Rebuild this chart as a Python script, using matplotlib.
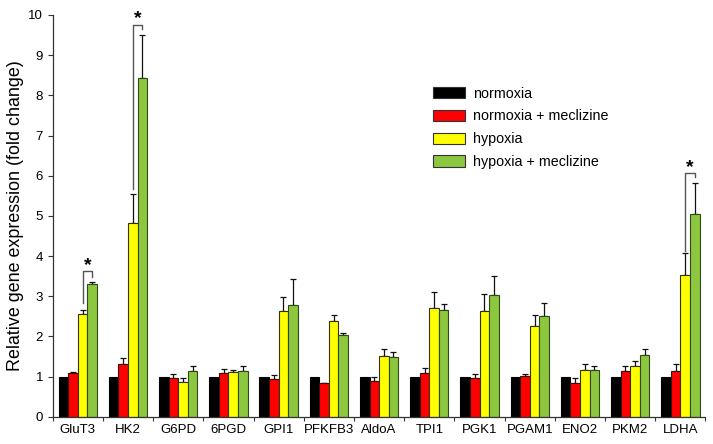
import numpy as np
import matplotlib
matplotlib.use("Agg")
import matplotlib.pyplot as plt
from matplotlib.patches import Patch

plt.rcParams['font.family'] = ['Liberation Sans', 'DejaVu Sans']

genes = ['GluT3', 'HK2', 'G6PD', '6PGD', 'GPI1', 'PFKFB3', 'AldoA',
         'TPI1', 'PGK1', 'PGAM1', 'ENO2', 'PKM2', 'LDHA']
series_names = ['normoxia', 'normoxia + meclizine', 'hypoxia', 'hypoxia + meclizine']

normoxia = [1.0, 1.0, 1.0, 1.0, 1.0, 1.0, 1.0, 1.0, 1.0, 1.0, 1.0, 1.0, 1.0]
normoxia_mec = [1.08, 1.32, 0.96, 1.08, 0.94, 0.83, 0.88, 1.08, 0.97, 1.02, 0.85, 1.14, 1.14]
hypoxia = [2.55, 4.83, 0.86, 1.11, 2.62, 2.39, 1.52, 2.71, 2.62, 2.27, 1.17, 1.27, 3.53]
hypoxia_mec = [3.31, 8.43, 1.14, 1.15, 2.79, 2.04, 1.49, 2.66, 3.04, 2.51, 1.17, 1.54, 5.05]

normoxia_err = [0.0] * 13
normoxia_mec_err = [0.03, 0.15, 0.10, 0.11, 0.10, 0.0, 0.12, 0.12, 0.09, 0.05, 0.12, 0.13, 0.16]
hypoxia_err = [0.11, 0.72, 0.11, 0.06, 0.37, 0.13, 0.17, 0.40, 0.44, 0.27, 0.15, 0.12, 0.55]
hypoxia_mec_err = [0.05, 1.07, 0.13, 0.12, 0.64, 0.05, 0.13, 0.15, 0.46, 0.33, 0.10, 0.15, 0.77]

colors = ['#000000', '#ff0000', '#ffff00', '#8dc63f']
edges = ['#000000', '#3a1010', '#333300', '#2f4a1a']

# significance brackets: gene index, left leg bottom, right leg bottom, top
sig_gene = [0, 1, 12]
sig_left = [2.82, 5.68, 4.12]
sig_right = [3.47, 9.66, 5.97]
sig_top = [3.62, 9.76, 6.07]

values = [normoxia, normoxia_mec, hypoxia, hypoxia_mec]
errors = [normoxia_err, normoxia_mec_err, hypoxia_err, hypoxia_mec_err]

fig = plt.figure(figsize=(7.13, 4.44), dpi=100)
ax = fig.add_axes([52.7 / 713, 27.3 / 444, 652.8 / 713, 401.7 / 444])

x = np.arange(len(genes))
w = 0.191
offsets = np.array([-1.5, -0.5, 0.5, 1.5]) * w

for k in range(4):
    xs = x + offsets[k]
    ax.bar(xs, values[k], width=w, color=colors[k], edgecolor=edges[k],
           linewidth=0.8, zorder=2)
    if k > 0:
        err = np.array(errors[k])
        ax.errorbar(xs, values[k], yerr=[np.zeros_like(err), err], fmt='none',
                    ecolor='#111111', elinewidth=0.9, capsize=2.3, capthick=0.9,
                    zorder=1)

for g, lb, rb, top in zip(sig_gene, sig_left, sig_right, sig_top):
    xl = g + offsets[2]
    xr = g + offsets[3]
    ax.plot([xl, xl, xr, xr], [lb, top, top, rb], color='#555555', lw=1.0, zorder=3)
    ax.text((xl + xr) / 2, top - 0.07, '*', ha='center', va='bottom',
            fontsize=14, fontweight='bold')

ax.set_xlim(-0.5, len(genes) - 0.5)
ax.set_ylim(0, 10)
ax.set_yticks(range(0, 11))
ax.set_xticks(np.arange(-0.5, len(genes)))
ax.set_xticklabels([])
ax.set_xticks(x, minor=True)
ax.set_xticklabels(genes, minor=True)
ax.tick_params(axis='x', which='minor', length=0, labelsize=9.5, pad=5)
ax.tick_params(axis='x', which='major', length=3, direction='out', color='#333333')
ax.tick_params(axis='y', length=3.5, direction='out', labelsize=9.5, color='#333333')

for s in ['top', 'right']:
    ax.spines[s].set_visible(False)
for s in ['left', 'bottom']:
    ax.spines[s].set_color('#333333')
    ax.spines[s].set_linewidth(0.9)

ax.set_ylabel('Relative gene expression (fold change)', fontsize=12.9, labelpad=3)

handles = [Patch(facecolor=colors[k], edgecolor='#333333', linewidth=0.8)
           for k in range(4)]
ax.legend(handles, series_names, loc='upper left', bbox_to_anchor=(0.583, 0.822),
          frameon=False, fontsize=10.3, handlelength=2.2, handleheight=0.85,
          handletextpad=0.55, labelspacing=0.62, borderpad=0, borderaxespad=0)

fig.savefig('out.png', dpi=100)
